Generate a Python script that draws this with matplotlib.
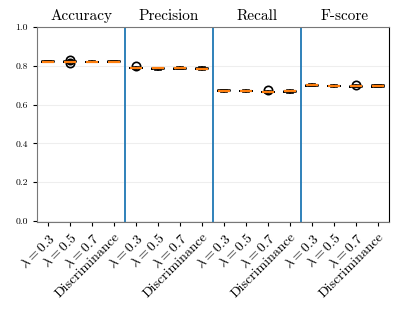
import matplotlib
matplotlib.use('Agg')
import matplotlib.pyplot as plt

plt.rcParams['font.family'] = ['cmr10', 'DejaVu Serif']
plt.rcParams['mathtext.fontset'] = 'cm'
plt.rcParams['axes.formatter.use_mathtext'] = True

# metric groups and method labels
metrics = ['Accuracy', 'Precision', 'Recall', 'F-score']
methods = [r'$\lambda = 0.3$', r'$\lambda = 0.5$', r'$\lambda = 0.7$', 'Discriminance']

# box statistics (per metric, per method)
medians = [0.822, 0.822, 0.821, 0.821,
           0.788, 0.786, 0.787, 0.785,
           0.672, 0.670, 0.665, 0.668,
           0.699, 0.696, 0.695, 0.696]
q1 = [0.821, 0.819, 0.820, 0.819,
      0.786, 0.784, 0.785, 0.781,
      0.670, 0.668, 0.663, 0.665,
      0.697, 0.694, 0.693, 0.693]
q3 = [0.823, 0.824, 0.822, 0.823,
      0.790, 0.788, 0.789, 0.789,
      0.674, 0.672, 0.667, 0.671,
      0.701, 0.698, 0.697, 0.699]
whislo = [0.820, 0.816, 0.819, 0.817,
          0.783, 0.780, 0.782, 0.776,
          0.667, 0.665, 0.660, 0.661,
          0.694, 0.691, 0.690, 0.689]
whishi = [0.824, 0.827, 0.823, 0.825,
          0.792, 0.791, 0.792, 0.793,
          0.677, 0.675, 0.670, 0.674,
          0.704, 0.701, 0.700, 0.703]
fliers = [[], [0.812, 0.832], [], [],
          [0.797], [], [], [],
          [], [], [0.675], [],
          [], [], [0.703], []]

stats = []
for i in range(len(medians)):
    stats.append({'med': medians[i], 'q1': q1[i], 'q3': q3[i],
                  'whislo': whislo[i], 'whishi': whishi[i], 'fliers': fliers[i]})

fig = plt.figure(figsize=(3.99, 3.10), dpi=100)
ax = fig.add_axes([0.093, 0.284, 0.882, 0.629])

ax.bxp(stats, positions=range(1, 17), widths=0.55,
       medianprops=dict(color='#ff7f0e', linewidth=1.6),
       boxprops=dict(color='black', linewidth=1.2),
       whiskerprops=dict(color='black', linewidth=1.2),
       capprops=dict(color='black', linewidth=1.2),
       flierprops=dict(marker='o', markerfacecolor='none', markeredgecolor='black',
                       markersize=6, markeredgewidth=1.2))

for x in [4.5, 8.5, 12.5]:
    ax.axvline(x, color='#1f77b4', linewidth=1.3)

for k, m in enumerate(metrics):
    ax.text(2.5 + 4 * k, 1.02, m, ha='center', va='bottom', fontsize=11,
            transform=ax.get_xaxis_transform())

ax.set_xlim(0.5, 16.5)
ax.set_ylim(-0.005, 1.0)
ax.set_yticks([0.0, 0.2, 0.4, 0.6, 0.8, 1.0])
ax.set_yticklabels(['0.0', '0.2', '0.4', '0.6', '0.8', '1.0'], fontsize=7)
ax.set_xticks(range(1, 17))
ax.set_xticklabels(methods * 4, rotation=45, ha='right', rotation_mode='anchor', fontsize=10)
ax.yaxis.grid(True, color='#eeeeee', linewidth=0.8)
ax.set_axisbelow(True)
for s in ['left', 'bottom', 'top']:
    ax.spines[s].set_color('#777777')
ax.tick_params(colors='black', length=3)

fig.savefig('out.png', dpi=100)
